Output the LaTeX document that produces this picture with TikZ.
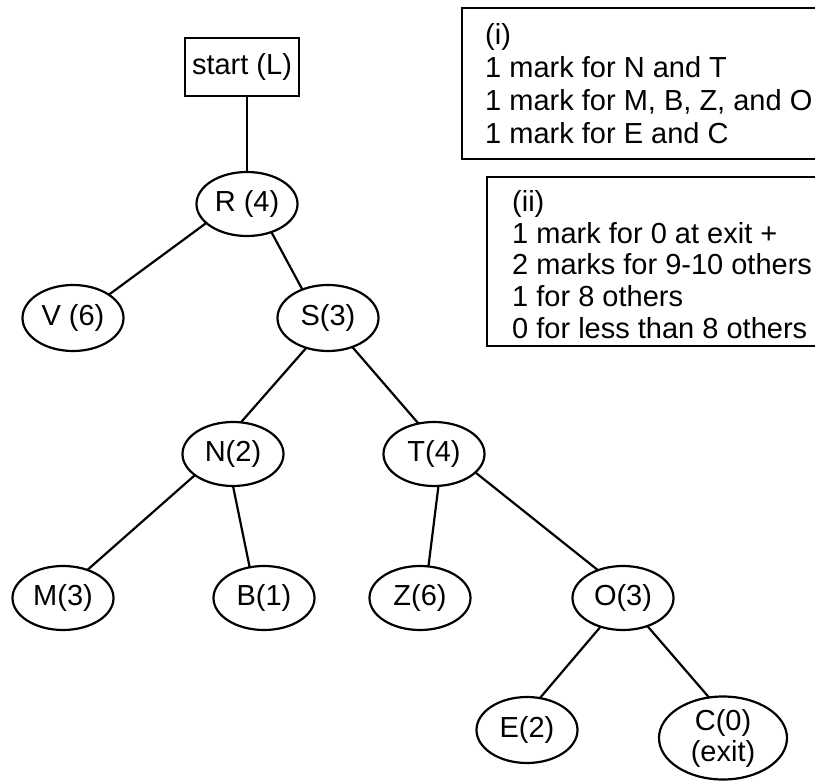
\documentclass[tikz,border=0pt]{standalone}
\usepackage{fontspec}
\setmainfont{Liberation Sans}
\usetikzlibrary{shapes.geometric}

\tikzset{
  txt/.style={font=\fontsize{29}{31}\selectfont},
  state/.style={txt, draw, line width=2.2pt, ellipse, inner sep=0pt, outer sep=0pt,
                minimum width=101pt, minimum height=64pt},
  startbox/.style={txt, draw, line width=2.2pt, rectangle, inner sep=0pt,
                   minimum width=114pt, minimum height=58pt},
  edge/.style={line width=2.2pt},
  note/.style={txt, anchor=base west, inner sep=0pt},
  notebox/.style={line width=2.2pt}
}

\begin{document}
\begin{tikzpicture}[x=1pt, y=-1pt]
  \useasboundingbox (0,0) rectangle (815,781);
  \clip (0,0) rectangle (815,781);

  % tree nodes
  \node[startbox] (start) at (242,67) {start (L)};
  \node[state] (R) at (247,204) {R (4)};
  \node[state, minimum height=66pt] (V) at (73,318) {V (6)};
  \node[state, minimum height=66pt] (S) at (328,318) {S(3)};
  \node[state] (N) at (233,454) {N(2)};
  \node[state] (T) at (434,454) {T(4)};
  \node[state] (M) at (63,598) {M(3)};
  \node[state] (B) at (264,598) {B(1)};
  \node[state] (Z) at (420,598) {Z(6)};
  \node[state] (O) at (623,598) {O(3)};
  \node[state, minimum height=66pt] (E) at (527,730) {E(2)};
  \node[state, minimum width=128pt, minimum height=83pt, align=center] (C) at (723,738) {C(0)\\(exit)};

  % branches
  \draw[edge] (R.north |- start.south) -- (R.north);
  \draw[edge] (R.205) -- (V.33);
  \draw[edge] (R.-49) -- (S.132);
  \draw[edge] (S.234) -- (N.76);
  \draw[edge] (S.-50) -- (T.117);
  \draw[edge] (N.209) -- (M.49);
  \draw[edge] (N.270) -- (B.115);
  \draw[edge] (T.-82) -- (Z.75);
  \draw[edge] (T.-24) -- (O.132);
  \draw[edge] (O.232) -- (E.68);
  \draw[edge] (O.-49) -- (C.109);

  % marking scheme, part (i)
  \draw[notebox] (462,8) rectangle (840,159);
  \node[note] (i0) at (485,45) {(i)};
  \node[note] (i1) at (485,78) {1 mark for N and T};
  \node[note] (i2) at (485,111) {1 mark for M, B, Z, and O};
  \node[note] (i3) at (485,144) {1 mark for E and C};

  % marking scheme, part (ii)
  \draw[notebox] (487,177) rectangle (840,346);
  \node[note] (ii0) at (512,212) {(ii)};
  \node[note] (ii1) at (512,243.5) {1 mark for 0 at exit +};
  \node[note] (ii2) at (512,275) {2 marks for 9-10 others};
  \node[note] (ii3) at (512,306.5) {1 for 8 others};
  \node[note] (ii4) at (512,338) {0 for less than 8 others};
\end{tikzpicture}
\end{document}
